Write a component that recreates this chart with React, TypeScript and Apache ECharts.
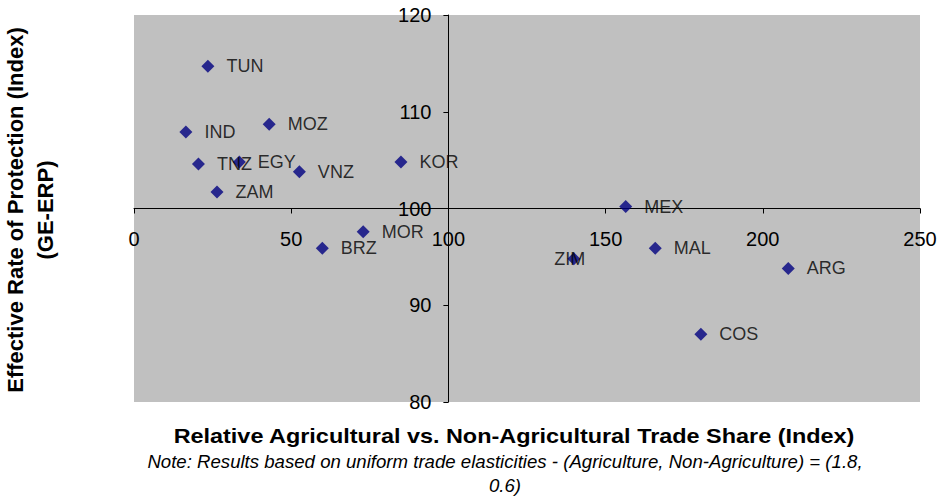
import React, { useEffect, useRef } from "react";
import * as echarts from "echarts";

const countries = ["TUN", "IND", "MOZ", "TNZ", "EGY", "VNZ", "ZAM", "KOR", "MOR", "BRZ", "MEX", "ZIM", "MAL", "ARG", "COS"];
const tradeShare = [23.5, 16.5, 43.0, 20.5, 33.5, 52.6, 26.4, 84.9, 72.9, 59.9, 156.4, 139.9, 165.8, 208.1, 180.3];
const erp = [114.7, 107.9, 108.7, 104.6, 104.8, 103.8, 101.7, 104.8, 97.6, 95.9, 100.2, 94.8, 95.9, 93.8, 87.0];

const xTitle = "Relative Agricultural vs. Non-Agricultural Trade Share (Index)";
const yTitle = "Effective Rate of Protection (Index)\n(GE-ERP)";
const note = "Note: Results based on uniform trade elasticities - (Agriculture, Non-Agriculture) = (1.8,\n0.6)";

const xMin = 0, xMax = 250, xStep = 50, xCross = 100;
const yMin = 80, yMax = 120, yStep = 10, yCross = 100;

const FONT = "'Liberation Sans', Arial, sans-serif";

export default function App() {
  const ref = useRef<HTMLDivElement>(null);
  useEffect(() => {
    document.body.style.margin = "0";
    if (!ref.current) return;
    const chart = echarts.init(ref.current, null, { renderer: "svg" });
    const gLeft = 134, gTop = 15, gW = 786, gH = 387;
    const data = countries.map((name, i) => {
      const d: any = { name, value: [tradeShare[i], erp[i]] };
      if (name === "ZIM") d.label = { position: "inside", offset: [-4, 0] };
      return d;
    });
    chart.setOption({
      animation: false,
      grid: { left: gLeft, top: gTop, width: gW, height: gH, show: true, backgroundColor: "#c0c0c0", borderWidth: 0 },
      xAxis: {
        type: "value", min: xMin, max: xMax, interval: xStep,
        offset: -gH * (yCross - yMin) / (yMax - yMin),
        axisLine: { show: true, onZero: false, lineStyle: { color: "#000", width: 1 } },
        axisTick: { show: true, length: 5, lineStyle: { color: "#000" } },
        axisLabel: { color: "#000", fontSize: 20, fontFamily: FONT, margin: 20 },
        splitLine: { show: false },
      },
      yAxis: {
        type: "value", min: yMin, max: yMax, interval: yStep,
        offset: -gW * (xCross - xMin) / (xMax - xMin),
        axisLine: { show: true, onZero: false, lineStyle: { color: "#000", width: 1 } },
        axisTick: { show: true, length: 5, lineStyle: { color: "#000" } },
        axisLabel: { color: "#000", fontSize: 20, fontFamily: FONT, margin: 17 },
        splitLine: { show: false },
      },
      series: [{
        type: "scatter",
        symbol: "diamond",
        symbolSize: 13,
        itemStyle: { color: "#000080" },
        label: { show: true, position: "right", distance: 12, formatter: "{b}", color: "#000", fontSize: 18, fontFamily: FONT },
        data,
      }],
      graphic: [
        {
          type: "text", x: 30, y: 210, rotation: Math.PI / 2,
          style: { text: yTitle, font: `bold 22px ${FONT}`, fill: "#000", textAlign: "center", textVerticalAlign: "middle", lineHeight: 30 },
        },
        {
          type: "text", x: 514, y: 436, scaleX: 1.115,
          style: { text: xTitle, font: `bold 21px ${FONT}`, fill: "#000", textAlign: "center", textVerticalAlign: "middle" },
        },
        {
          type: "text", x: 505, y: 474, scaleX: 1.035,
          style: { text: note, font: `italic 18px ${FONT}`, fill: "#000", textAlign: "center", textVerticalAlign: "middle", lineHeight: 24 },
        },
      ],
    });
    return () => chart.dispose();
  }, []);
  return <div ref={ref} style={{ width: 942, height: 498 }} />;
}
